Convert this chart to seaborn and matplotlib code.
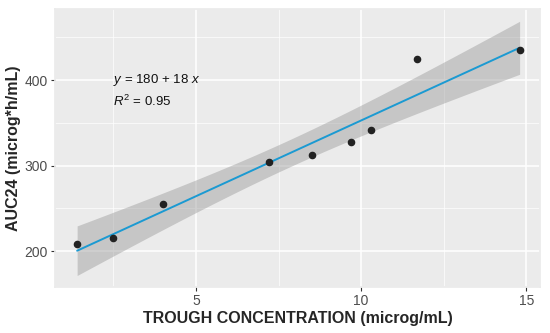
import numpy as np
import pandas as pd
import seaborn as sns
import matplotlib.pyplot as plt
from matplotlib.ticker import MultipleLocator

# values
trough = [1.4, 2.5, 4.0, 7.2, 8.5, 9.7, 10.3, 11.7, 14.8]
auc24 = [208, 215, 255, 304, 312, 327, 341, 425, 435]
eq_text = r"$y$ = 180 + 18 $x$"
r2_text = r"$R^2$ = 0.95"

df = pd.DataFrame({"trough": trough, "auc": auc24})

sns.set_theme(style="darkgrid", rc={
    "axes.facecolor": "#EBEBEB",
    "grid.color": "white",
    "axes.edgecolor": "#EBEBEB",
})
plt.rcParams["font.family"] = ["Liberation Sans", "DejaVu Sans"]
plt.rcParams["mathtext.fontset"] = "custom"
plt.rcParams["mathtext.it"] = "Liberation Sans:italic"
plt.rcParams["mathtext.rm"] = "Liberation Sans"

fig, ax = plt.subplots(figsize=(5.5, 3.33), dpi=100)

# parametric 95% band like ggplot's geom_smooth(method="lm")
x = np.array(trough, dtype=float)
y = np.array(auc24, dtype=float)
n = len(x)
b1, b0 = np.polyfit(x, y, 1)
resid = y - (b0 + b1 * x)
s = np.sqrt(np.sum(resid ** 2) / (n - 2))
xs = np.linspace(x.min(), x.max(), 80)
se = s * np.sqrt(1 / n + (xs - x.mean()) ** 2 / np.sum((x - x.mean()) ** 2))
t_crit = 2.365  # t(0.975, df=7)
fit = b0 + b1 * xs
ax.fill_between(xs, fit - t_crit * se, fit + t_crit * se, color="#999999",
                alpha=0.45, lw=0, zorder=1)

sns.regplot(data=df, x="trough", y="auc", ax=ax, ci=None,
            scatter_kws={"s": 20, "color": "#222222", "alpha": 1, "zorder": 3},
            line_kws={"color": "#1B9AD2", "lw": 1.4, "zorder": 2})

ax.set_xlim(0.73, 15.42)
ax.set_ylim(158, 483)
ax.xaxis.set_major_locator(MultipleLocator(5))
ax.xaxis.set_minor_locator(MultipleLocator(2.5))
ax.yaxis.set_major_locator(MultipleLocator(100))
ax.yaxis.set_minor_locator(MultipleLocator(50))
ax.grid(which="major", color="white", lw=1.1)
ax.grid(which="minor", color="white", lw=0.5)

ax.tick_params(axis="both", which="major", length=3, width=0.8, color="#333333",
               labelsize=10, labelcolor="#4D4D4D", pad=2, bottom=True, left=True)
ax.tick_params(which="minor", length=0)

ax.set_xlabel("TROUGH CONCENTRATION (microg/mL)", fontsize=11.5, fontweight="bold", labelpad=2)
ax.set_ylabel("AUC24 (microg*h/mL)", fontsize=11.5, fontweight="bold", labelpad=3)

ax.text(2.5, 400, eq_text, fontsize=9.5, color="#111111", va="center")
ax.text(2.5, 375, r2_text, fontsize=9.5, color="#111111", va="center")

plt.subplots_adjust(left=0.1, right=0.982, top=0.973, bottom=0.138)
plt.savefig("out.png", dpi=100)
